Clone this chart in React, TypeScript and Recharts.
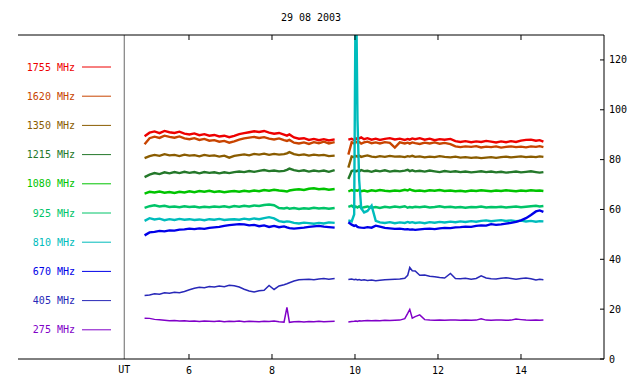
import { LineChart, Line, XAxis, YAxis, ReferenceLine } from 'recharts'

const FONT = '"DejaVu Sans Mono", monospace'

// UT hours, two recording windows with a gap between
const timesA = [
  4.93, 5.05, 5.17, 5.29, 5.41, 5.53, 5.65, 5.77, 5.89, 6.01, 6.13, 6.25, 6.37, 6.49, 6.61, 6.73, 6.85, 6.97, 7.09, 7.21,
  7.33, 7.45, 7.57, 7.69, 7.81, 7.93, 8.05, 8.17, 8.29, 8.36, 8.42, 8.53, 8.65, 8.77, 8.89, 9.01, 9.13, 9.25, 9.37, 9.51,
]
const gapTime = 9.67
const timesB = [
  9.84, 9.92, 9.98, 10.02, 10.06, 10.1, 10.15, 10.22, 10.3, 10.4, 10.5, 10.6, 10.72, 10.84, 10.96, 11.08, 11.2, 11.27,
  11.32, 11.38, 11.45, 11.56, 11.68, 11.8, 11.92, 12.04, 12.16, 12.3, 12.42, 12.54, 12.66, 12.8, 12.92, 13.04, 13.16,
  13.28, 13.4, 13.52, 13.64, 13.76, 13.88, 14.0, 14.12, 14.24, 14.36, 14.45, 14.54,
]

const mhz1755 = [
  89.4, 90.8, 91.3, 90.6, 91.5, 91.0, 90.7, 91.2, 90.4, 90.1, 90.5, 89.8, 90.2, 89.6, 89.9, 89.3, 89.6, 89.0, 89.5, 90.2,
  90.6, 91.0, 91.4, 91.1, 91.5, 90.8, 90.4, 90.7, 90.0, 89.6, 90.1, 88.9, 88.4, 88.6, 87.9, 88.3, 87.8, 88.2, 87.7, 88.1,
  88.0, 88.4, 87.8, 88.6, 88.1, 88.5, 88.9, 88.2, 88.6, 88.0, 88.4, 87.9, 88.3, 88.6, 88.1, 88.4, 87.9, 88.3, 88.0, 88.5,
  88.2, 88.6, 88.0, 88.4, 87.8, 88.2, 88.0, 88.3, 87.4, 87.1, 87.4, 87.0, 87.3, 87.1, 87.5, 87.2, 86.9, 87.3, 87.0, 87.4,
  87.1, 87.6, 87.9, 88.0, 87.6, 87.8, 87.2,
]
const mhz1620 = [
  86.2, 88.6, 89.2, 88.7, 89.6, 89.1, 88.8, 89.3, 88.5, 88.2, 88.6, 87.9, 88.3, 87.6, 87.8, 87.2, 87.5, 86.8, 87.3, 88.0,
  88.5, 88.8, 89.1, 88.7, 89.0, 88.4, 88.1, 88.5, 87.8, 87.5, 87.9, 86.8, 86.5, 86.9, 86.3, 87.0, 86.6, 87.2, 86.5, 87.0,
  82.0, 87.0, 86.5, 87.2, 86.8, 87.1, 86.4, 86.9, 87.2, 86.6, 86.9, 86.5, 87.0, 86.7, 84.8, 86.9, 86.5, 86.8, 86.4, 86.9,
  86.6, 86.3, 86.8, 86.5, 86.9, 86.4, 86.7, 86.2, 85.3, 85.0, 85.3, 85.1, 85.4, 84.9, 85.2, 85.0, 85.3, 84.8, 85.1, 85.3,
  85.0, 85.2, 84.9, 85.3, 85.1, 85.4, 85.0,
]
const mhz1350 = [
  80.6, 81.4, 81.9, 81.5, 82.2, 81.7, 81.9, 81.4, 82.0, 81.6, 81.8, 81.3, 81.9, 81.5, 81.7, 81.2, 81.6, 80.8, 81.5, 81.8,
  82.1, 81.7, 82.3, 82.0, 82.4, 81.9, 82.3, 82.0, 82.2, 82.5, 83.0, 82.2, 81.8, 82.1, 81.6, 82.0, 81.7, 81.9, 81.4, 81.6,
  76.8, 81.3, 81.0, 81.5, 81.2, 81.6, 81.1, 81.4, 81.7, 81.2, 81.0, 81.4, 81.1, 81.5, 81.2, 81.3, 81.0, 81.4, 81.2, 81.5,
  81.1, 81.3, 80.9, 81.2, 81.0, 81.4, 81.1, 80.9, 81.2, 80.8, 81.0, 80.7, 80.9, 80.6, 80.8, 81.0, 80.7, 81.0, 81.2, 80.9,
  81.1, 81.3, 81.0, 81.2, 81.0, 81.3, 81.1,
]
const mhz1215 = [
  73.0, 74.0, 74.6, 74.2, 74.9, 74.5, 75.0, 74.6, 75.1, 74.7, 75.0, 74.5, 75.0, 74.7, 74.9, 74.5, 74.9, 74.6, 75.0, 75.2,
  75.0, 75.4, 75.1, 75.5, 75.8, 75.4, 75.6, 75.3, 75.5, 75.9, 76.4, 75.8, 75.4, 75.7, 75.2, 75.6, 75.3, 75.6, 75.1, 75.8,
  72.2, 75.4, 75.7, 75.3, 75.6, 75.2, 75.8, 75.4, 75.5, 75.1, 75.6, 75.3, 75.7, 75.2, 75.5, 75.3, 75.6, 75.9, 75.4, 75.7,
  75.3, 75.5, 75.2, 75.6, 75.3, 75.0, 75.4, 75.1, 75.3, 75.0, 75.2, 74.9, 75.1, 75.3, 75.0, 75.2, 74.9, 75.1, 74.8, 75.0,
  75.2, 74.9, 75.1, 75.3, 75.0, 74.8, 75.0,
]
const mhz1080 = [
  66.4, 67.1, 66.8, 67.2, 66.7, 67.0, 66.6, 67.1, 66.8, 67.3, 66.9, 67.4, 67.1, 67.5, 67.0, 67.3, 66.9, 67.2, 67.4, 67.1,
  67.5, 67.2, 67.6, 67.3, 67.8, 67.5, 67.9, 67.6, 67.4, 67.2, 67.6, 67.9, 68.1, 67.8, 68.3, 68.5, 68.1, 68.3, 67.9, 68.2,
  67.2, 67.8, 67.4, 67.7, 67.5, 67.9, 67.3, 67.6, 67.2, 67.7, 67.4, 67.8, 67.5, 67.3, 67.6, 67.4, 67.9, 67.6, 68.1, 67.7,
  67.4, 67.6, 67.3, 67.7, 67.5, 67.8, 67.4, 67.6, 67.3, 67.5, 67.2, 67.6, 67.4, 67.7, 67.5, 67.3, 67.6, 67.4, 67.7, 67.5,
  67.3, 67.6, 67.4, 67.7, 67.5, 67.6, 67.4,
]
const mhz925 = [
  60.6, 61.3, 61.7, 61.2, 61.5, 61.0, 61.2, 60.9, 61.3, 61.0, 61.2, 60.8, 61.1, 60.9, 61.2, 61.0, 61.3, 60.9, 61.4, 61.1,
  61.5, 61.2, 61.6, 61.4, 61.8, 62.0, 61.7, 60.6, 60.4, 60.7, 60.3, 60.6, 60.2, 60.5, 60.3, 60.7, 60.4, 60.6, 60.3, 60.6,
  61.0, 61.5, 60.6, 61.2, 60.8, 61.3, 60.5, 60.9, 61.2, 60.7, 61.0, 60.6, 61.1, 60.8, 61.2, 60.9, 61.3, 60.7, 61.0, 60.8,
  61.1, 60.9, 61.2, 60.8, 61.0, 61.3, 60.9, 61.1, 60.8, 61.0, 60.7, 61.0, 60.9, 61.2, 60.8, 61.0, 60.9, 61.1, 60.8, 61.0,
  61.2, 60.9, 61.1, 61.3, 61.5, 61.2, 61.4,
]
const mhz810 = [
  55.4, 56.5, 56.0, 56.3, 55.7, 56.1, 55.8, 56.2, 55.9, 56.1, 55.8, 56.0, 55.7, 56.1, 55.9, 56.2, 55.8, 56.0, 56.1, 55.9,
  56.3, 56.0, 56.4, 56.1, 56.5, 56.9, 56.4, 55.3, 55.0, 55.2, 55.1, 54.6, 54.4, 54.7, 54.5, 54.3, 54.6, 54.4, 54.8, 54.6,
  55.6, 55.2, 58.0, 160, 96.0, 72.0, 60.5, 58.8, 59.4, 61.5, 55.4, 54.8, 54.6, 54.9, 54.5, 54.8, 54.6, 55.0, 54.7, 54.9,
  54.6, 54.8, 54.5, 54.9, 54.7, 55.0, 54.8, 55.1, 54.9, 55.2, 55.0, 55.3, 55.1, 55.4, 55.6, 55.3, 55.5, 55.7, 55.4, 55.6,
  55.3, 55.5, 55.2, 55.4, 55.1, 55.3, 55.2,
]
const mhz670 = [
  49.6, 50.8, 51.0, 51.4, 51.2, 51.6, 51.5, 51.9, 52.0, 52.3, 52.1, 52.4, 52.2, 52.6, 52.8, 53.0, 53.4, 53.7, 53.9, 54.1,
  54.0, 53.6, 53.8, 53.3, 53.6, 53.0, 53.4, 52.9, 53.2, 52.8, 52.5, 52.3, 52.5, 52.7, 53.0, 53.2, 53.4, 53.1, 52.9, 52.7,
  54.9, 53.9, 53.4, 53.6, 53.0, 52.8, 52.7, 52.6, 52.9, 52.7, 53.5, 53.1, 52.6, 52.4, 52.2, 52.3, 52.0, 52.1, 51.9, 52.0,
  51.8, 52.0, 52.2, 52.3, 52.1, 52.4, 52.6, 52.5, 52.8, 52.9, 53.1, 53.0, 53.4, 53.6, 53.5, 54.1, 53.8, 54.0, 54.3, 54.6,
  55.0, 55.6, 56.5, 57.8, 59.2, 59.6, 59.0,
]
const mhz405 = [
  25.5, 25.7, 26.2, 26.0, 26.6, 26.4, 26.8, 26.6, 27.1, 27.8, 28.4, 28.8, 28.6, 29.1, 28.9, 29.3, 29.0, 29.6, 29.4, 28.9,
  28.0, 27.3, 26.9, 27.4, 27.6, 29.5, 27.9, 29.3, 29.8, 30.2, 30.6, 31.3, 31.8, 31.9, 32.0, 31.8, 32.1, 32.3, 32.0, 32.3,
  31.9, 32.1, 31.8, 32.0, 31.7, 31.9, 31.6, 31.8, 31.5, 31.7, 31.4, 31.6, 31.8, 31.9, 32.0, 32.1, 32.4, 33.6, 36.7, 35.4,
  35.3, 33.6, 33.7, 33.2, 33.0, 32.7, 32.5, 34.3, 32.3, 32.2, 32.4, 32.0, 32.3, 33.4, 32.5, 32.2, 32.1, 32.4, 32.6, 32.3,
  32.0, 32.3, 32.5, 32.2, 31.7, 32.0, 31.8,
]
const mhz275 = [
  16.4, 16.3, 15.9, 15.7, 15.5, 15.3, 15.4, 15.2, 15.3, 15.1, 15.2, 15.0, 15.2, 15.1, 15.0, 15.2, 14.9, 15.1, 15.0, 15.2,
  14.9, 15.1, 15.0, 14.9, 15.1, 15.0, 15.2, 14.9, 14.8, 20.7, 14.7, 14.9, 15.0, 14.8, 15.0, 14.9, 15.1, 14.9, 15.0, 15.1,
  14.8, 15.0, 15.1, 15.2, 15.1, 15.3, 15.2, 15.3, 15.4, 15.3, 15.4, 15.3, 15.5, 15.4, 15.5, 15.6, 16.2, 18.3, 19.9, 16.4,
  17.0, 17.7, 15.8, 15.6, 15.5, 15.6, 15.5, 15.6, 15.6, 15.5, 15.6, 15.5, 15.6, 16.1, 15.6, 15.5, 15.6, 15.6, 15.5, 15.6,
  16.0, 15.8, 15.6, 15.5, 15.6, 15.5, 15.6,
]

const channels = [
  { key: 'f1755', label: '1755 MHz', color: '#ee0000', values: mhz1755 },
  { key: 'f1620', label: '1620 MHz', color: '#c84400', values: mhz1620 },
  { key: 'f1350', label: '1350 MHz', color: '#8a5c00', values: mhz1350 },
  { key: 'f1215', label: '1215 MHz', color: '#24782a', values: mhz1215 },
  { key: 'f1080', label: '1080 MHz', color: '#00c400', values: mhz1080 },
  { key: 'f925', label: '925 MHz', color: '#00c468', values: mhz925 },
  { key: 'f810', label: '810 MHz', color: '#00bcbc', values: mhz810 },
  { key: 'f670', label: '670 MHz', color: '#0000e8', values: mhz670 },
  { key: 'f405', label: '405 MHz', color: '#2828b8', values: mhz405 },
  { key: 'f275', label: '275 MHz', color: '#8000c8', values: mhz275 },
]

const xTicks = [6, 8, 10, 12, 14]
const yTicks = [0, 20, 40, 60, 80, 100, 120]
const title = '29 08 2003'

const allTimes = [...timesA, gapTime, ...timesB]
const data = allTimes.map((t, i) => {
  const row: Record<string, number | null> = { t }
  channels.forEach((c) => {
    if (i < timesA.length) row[c.key] = c.values[i]
    else if (i === timesA.length) row[c.key] = null
    else row[c.key] = c.values[i - 1]
  })
  return row
})

const tickStyle = { fill: '#000', fontSize: 10, fontFamily: FONT }

export default function App() {
  return (
    <div style={{ position: 'absolute', left: 0, top: 0, width: 640, height: 384, background: '#fff' }}>
      <LineChart width={640} height={384} data={data} margin={{ top: 34, right: 0, bottom: 0, left: 18 }}>
        <XAxis
          xAxisId="b"
          dataKey="t"
          type="number"
          domain={[1.88, 16]}
          ticks={xTicks}
          height={25}
          tickSize={-5}
          tickMargin={13}
          tick={tickStyle}
          stroke="#000"
          allowDataOverflow
        />
        <XAxis
          xAxisId="t"
          dataKey="t"
          type="number"
          orientation="top"
          domain={[1.88, 16]}
          ticks={xTicks}
          height={1}
          tickSize={-5}
          tickFormatter={() => ''}
          stroke="#000"
          allowDataOverflow
        />
        <YAxis
          yAxisId="r"
          orientation="right"
          type="number"
          domain={[0, 130]}
          ticks={yTicks}
          width={36}
          tickSize={-4}
          tickMargin={9}
          tick={tickStyle}
          stroke="#000"
          allowDataOverflow
        />
        <YAxis yAxisId="l" orientation="left" type="number" domain={[0, 130]} width={0} tick={false} stroke="#000" />
        <ReferenceLine
          x={4.44}
          xAxisId="b"
          yAxisId="r"
          stroke="#666"
          label={{ value: 'UT', position: 'bottom', offset: 7, fill: '#000', fontSize: 10, fontFamily: FONT }}
        />
        {channels.map((c) => (
          <Line
            key={c.key}
            xAxisId="b"
            yAxisId="r"
            dataKey={c.key}
            stroke={c.color}
            strokeWidth={c.key === 'f405' || c.key === 'f275' ? 1.5 : 2.4}
            dot={false}
            activeDot={false}
            connectNulls={false}
            isAnimationActive={false}
            type="linear"
          />
        ))}
      </LineChart>
      <svg
        width={640}
        height={384}
        style={{ position: 'absolute', left: 0, top: 0, pointerEvents: 'none' }}
        fontFamily={FONT}
        fontSize={10}
      >
        <text x={311} y={17} textAnchor="middle" dominantBaseline="central" fill="#000">
          {title}
        </text>
        {channels.map((c, i) => {
          const y = 67 + i * 29.2
          return (
            <g key={c.key}>
              <text x={75} y={y} textAnchor="end" dominantBaseline="central" fill={c.color}>
                {c.label}
              </text>
              <line x1={82} x2={111} y1={y} y2={y} stroke={c.color} strokeWidth={1} />
            </g>
          )
        })}
      </svg>
    </div>
  )
}
